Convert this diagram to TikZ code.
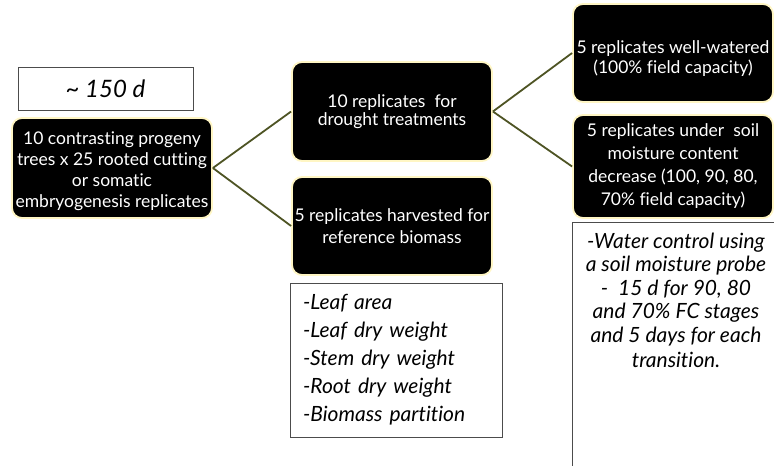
\documentclass[tikz,border=0pt]{standalone}
\usepackage{fontspec}
\setmainfont{Lato}[Ligatures=NoCommon]
\definecolor{cream}{RGB}{255,246,196}
\definecolor{olivel}{RGB}{78,84,36}
\begin{document}
\begin{tikzpicture}[x=1pt,y=-1pt,
  blackbox/.style={draw=cream, line width=1.8pt, fill=black, rounded corners=10pt,
    text=white, align=center, inner sep=0pt, minimum width=200pt,
    font=\fontsize{17.5}{21}\selectfont},
  conn/.style={draw=olivel, line width=1.8pt},
  framebox/.style={draw=black!70, line width=1pt, fill=white, inner sep=0pt},
  listtext/.style={font=\fontsize{21}{28}\selectfont\itshape, align=left},
  notetext/.style={font=\fontsize{21}{23.5}\selectfont\itshape, align=center}]
\clip (0,0) rectangle (774,466);
\fill[white] (0,0) rectangle (774,466);
% time box
\node[framebox, minimum width=175pt, minimum height=43pt, font=\fontsize{24}{28}\selectfont\itshape] (time) at (105.5,89) {\textasciitilde\ 150 d};
% black boxes
\node[blackbox, minimum height=100pt] (b1) at (112,168) {\raisebox{-4pt}[\height][\depth]{\begin{tabular}{@{}c@{}}10 contrasting progeny\\trees x 25 rooted cutting\\or somatic\\embryogenesis replicates\end{tabular}}};
\node[blackbox, minimum height=99pt, font=\fontsize{17.5}{18}\selectfont] (b2) at (392,111.5) {10 replicates\ \ for\\drought treatments};
\node[blackbox, minimum height=98pt, font=\fontsize{17.5}{22}\selectfont] (b3) at (392,226) {5 replicates harvested for\\reference biomass};
\node[blackbox, minimum height=98pt, font=\fontsize{17.5}{20}\selectfont] (b4) at (673,53) {\raisebox{-6pt}[\height][\depth]{\begin{tabular}{@{}c@{}}5 replicates well-watered\\(100\% field capacity)\end{tabular}}};
\node[blackbox, minimum height=103pt, font=\fontsize{17.5}{23}\selectfont] (b5) at (673,166.5) {5 replicates under\ \ soil\\moisture content\\decrease (100, 90, 80,\\70\% field capacity)};
% connectors
\draw[conn] (b1.east) -- (b2.west);
\draw[conn] (b1.east) -- (b3.west);
\draw[conn] (b2.east) -- (b4.west);
\draw[conn] (b2.east) -- (b5.west);
% list box
\node[framebox, minimum width=212pt, minimum height=154pt, text width=202pt, listtext, inner sep=0pt] (list) at (396,360)
 {\hspace*{8pt}-Leaf area\\\hspace*{8pt}-Leaf dry weight\\\hspace*{8pt}-Stem dry weight\\\hspace*{8pt}-Root dry weight\\\hspace*{8pt}-Biomass partition};
% note box (extends past the picture edge)
\coordinate (ntr) at (800,222);
\coordinate (nbl) at (572,500);
\draw[draw=black!70, line width=1pt] (ntr) -| (nbl);
\node[notetext, anchor=north] (note) at (676,229)
 {-Water control using\\a soil moisture probe\\-\ \ 15 d for 90, 80\\and 70\% FC stages\\and 5 days for each\\[2pt]transition.};
\end{tikzpicture}
\end{document}
